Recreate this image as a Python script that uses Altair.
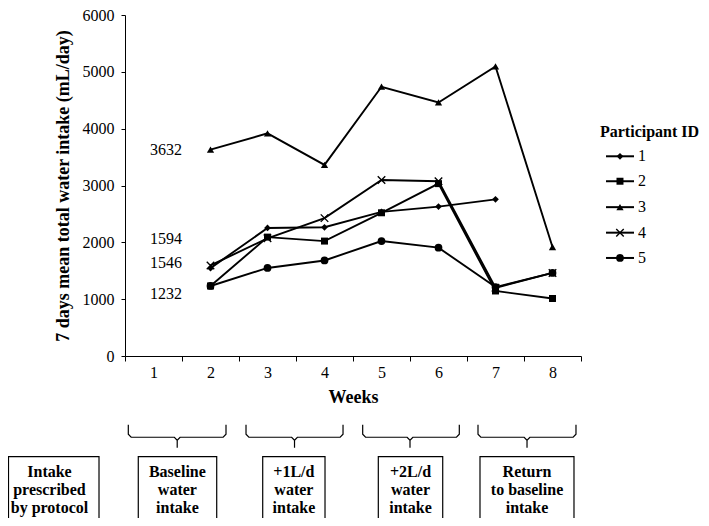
import altair as alt
import pandas as pd

# ---------------- data ----------------
weeks = [2, 3, 4, 5, 6, 7, 8]
participants = ["1", "2", "3", "4", "5"]
p1 = [1546, 2253, 2265, 2537, 2629, 2756, None]
p2 = [1232, 2092, 2022, 2520, 3033, 1144, 1012]
p3 = [3632, 3917, 3362, 4738, 4461, 5095, 1918]
p4 = [1594, 2070, 2426, 3097, 3074, 1200, 1462]
p5 = [1232, 1549, 1681, 2022, 1906, 1213, 1462]

baseline_labels = ["3632", "1594", "1546", "1232"]
baseline_label_y = [3632, 2058, 1628, 1093]

week_ticks = [0.5, 1.5, 2.5, 3.5, 4.5, 5.5, 6.5, 7.5, 8.5]
y_ticks = [0, 1000, 2000, 3000, 4000, 5000, 6000]

shapes = ["diamond", "square", "triangle-up", "M-1,-1L1,1M-1,1L1,-1", "circle"]
sizes = [45, 60, 75, 60, 150]

phase_labels = ["Intake\nprescribed\nby protocol", "Baseline\nwater\nintake",
                "+1L/d\nwater\nintake", "+2L/d\nwater\nintake",
                "Return\nto baseline\nintake"]
box_left = [-1.544, 0.733, 2.916, 4.944, 6.728]
box_right = [0.044, 2.109, 4.009, 6.074, 8.377]
box_center = [-0.825, 1.419, 3.463, 5.509, 7.553]
box_top, box_bottom, box_text_y = -1772, -3140, -2040

brace_left = [0.558, 2.623, 4.670, 6.693]
brace_right = [2.272, 4.325, 6.365, 8.412]
brace_center = [1.416, 3.474, 5.5, 7.553]
brace_top, brace_mid, brace_tip = -1211, -1430, -1614

legend_title = "Participant ID"
legend_title_pos = (8.833, 3947)
legend_rows_y = [3514, 3075, 2619, 2170, 1725]
legend_line_x = (8.939, 9.430)
legend_marker_x = 9.184
legend_text_x = 9.5

FONT = "Liberation Serif"

# ---------------- tables ----------------
rows = []
for pid, series in zip(participants, [p1, p2, p3, p4, p5]):
    for w, v in zip(weeks, series):
        if v is not None:
            rows.append({"participant": pid, "week": w, "value": v})
df = pd.DataFrame(rows)

lab_df = pd.DataFrame({"label": baseline_labels, "y": baseline_label_y, "x": [1.5] * 4})

box_df = pd.DataFrame({"x1": box_left, "x2": box_right, "xc": box_center,
                       "text": phase_labels,
                       "y1": [box_top] * 5, "y2": [box_bottom] * 5,
                       "ty": [box_text_y] * 5})

dx, dy = 0.05, 53
brace_rows = []
for i, (a, b, c) in enumerate(zip(brace_left, brace_right, brace_center)):
    pts = [(a, brace_top), (a, brace_mid + dy), (a + dx, brace_mid),
           (c - dx, brace_mid), (c, brace_mid - dy), (c, brace_tip),
           (c, brace_mid - dy), (c + dx, brace_mid), (b - dx, brace_mid),
           (b, brace_mid + dy), (b, brace_top)]
    for k, (x, y) in enumerate(pts):
        brace_rows.append({"brace": i, "order": k, "x": x, "y": y})
brace_df = pd.DataFrame(brace_rows)

leg_df = pd.DataFrame({"participant": participants, "y": legend_rows_y,
                       "x1": [legend_line_x[0]] * 5, "x2": [legend_line_x[1]] * 5,
                       "xm": [legend_marker_x] * 5, "xt": [legend_text_x] * 5})
leg_title_df = pd.DataFrame({"t": [legend_title], "x": [legend_title_pos[0]],
                             "y": [legend_title_pos[1]]})

# ---------------- scales ----------------
xs = alt.Scale(domain=[0.5, 8.5], nice=False, zero=False)
ys = alt.Scale(domain=[0, 6000], nice=False)
shape_scale = alt.Scale(domain=participants, range=shapes)
size_scale = alt.Scale(domain=participants, range=sizes)

x_axis = alt.Axis(values=week_ticks, title="Weeks",
                  labelExpr="datum.value < 8 ? format(datum.value + 0.5, 'd') : ''",
                  labelOffset=28.5, labelFlush=False, labelOverlap=False, tickSize=5,
                  labelPadding=3, titlePadding=8, grid=False)
y_axis = alt.Axis(values=y_ticks, title="7 days mean total water intake (mL/day)",
                  tickSize=4, labelPadding=7, titlePadding=10, grid=False, format="d")

lines = alt.Chart(df).mark_line(color="black", strokeWidth=1.9).encode(
    x=alt.X("week:Q", scale=xs, axis=x_axis),
    y=alt.Y("value:Q", scale=ys, axis=y_axis),
    detail="participant:N",
)

pts_filled = alt.Chart(df).transform_filter("datum.participant != '4'").mark_point(
    filled=True, color="black", opacity=1).encode(
    x=alt.X("week:Q", scale=xs),
    y=alt.Y("value:Q", scale=ys),
    shape=alt.Shape("participant:N", scale=shape_scale, legend=None),
    size=alt.Size("participant:N", scale=size_scale, legend=None),
)
pts_open = alt.Chart(df).transform_filter("datum.participant == '4'").mark_point(
    filled=False, color="black", strokeWidth=1.4, opacity=1).encode(
    x=alt.X("week:Q", scale=xs),
    y=alt.Y("value:Q", scale=ys),
    shape=alt.Shape("participant:N", scale=shape_scale, legend=None),
    size=alt.Size("participant:N", scale=size_scale, legend=None),
)

labels = alt.Chart(lab_df).mark_text(font=FONT, fontSize=16, align="right",
                                     baseline="middle", color="black").encode(
    x=alt.X("x:Q", scale=xs), y=alt.Y("y:Q", scale=ys), text="label:N")

boxes = alt.Chart(box_df).mark_rect(fill="white", stroke="black", strokeWidth=1.2).encode(
    x=alt.X("x1:Q", scale=xs), x2="x2:Q", y=alt.Y("y1:Q", scale=ys), y2="y2:Q")
box_text = alt.Chart(box_df).mark_text(font=FONT, fontSize=16, fontWeight="bold",
                                       lineBreak="\n", lineHeight=18, align="center",
                                       baseline="middle", color="black").encode(
    x=alt.X("xc:Q", scale=xs), y=alt.Y("ty:Q", scale=ys), text="text:N")

braces = alt.Chart(brace_df).mark_line(color="black", strokeWidth=1.2).encode(
    x=alt.X("x:Q", scale=xs), y=alt.Y("y:Q", scale=ys), detail="brace:N", order="order:Q")

leg_lines = alt.Chart(leg_df).mark_rule(color="black", strokeWidth=2).encode(
    x=alt.X("x1:Q", scale=xs), x2="x2:Q", y=alt.Y("y:Q", scale=ys))
leg_pts_f = alt.Chart(leg_df).transform_filter("datum.participant != '4'").mark_point(
    filled=True, color="black", opacity=1).encode(
    x=alt.X("xm:Q", scale=xs), y=alt.Y("y:Q", scale=ys),
    shape=alt.Shape("participant:N", scale=shape_scale, legend=None),
    size=alt.Size("participant:N", scale=size_scale, legend=None))
leg_pts_o = alt.Chart(leg_df).transform_filter("datum.participant == '4'").mark_point(
    filled=False, color="black", strokeWidth=1.4, opacity=1).encode(
    x=alt.X("xm:Q", scale=xs), y=alt.Y("y:Q", scale=ys),
    shape=alt.Shape("participant:N", scale=shape_scale, legend=None),
    size=alt.Size("participant:N", scale=size_scale, legend=None))
leg_text = alt.Chart(leg_df).mark_text(font=FONT, fontSize=16, align="left",
                                       baseline="middle", color="black").encode(
    x=alt.X("xt:Q", scale=xs), y=alt.Y("y:Q", scale=ys), text="participant:N")
leg_title = alt.Chart(leg_title_df).mark_text(font=FONT, fontSize=16, fontWeight="bold",
                                              align="left", baseline="middle",
                                              color="black").encode(
    x=alt.X("x:Q", scale=xs), y=alt.Y("y:Q", scale=ys), text="t:N")

chart = alt.layer(
    lines, pts_filled, pts_open, labels, braces, boxes, box_text,
    leg_lines, leg_pts_f, leg_pts_o, leg_text, leg_title,
).properties(
    width=456, height=341,
    autosize=alt.AutoSizeParams(type="none"),
    padding={"left": 117, "top": 7, "right": 120, "bottom": 162},
    background="white",
).configure_view(stroke=None).configure_axis(
    domainColor="black", domainWidth=1, tickColor="black", tickWidth=1,
    labelFont=FONT, labelFontSize=16, labelColor="black",
    titleFont=FONT, titleFontSize=18, titleFontWeight="bold", titleColor="black",
)

chart.save("out.html", embed_options={"renderer": "svg", "actions": False})
